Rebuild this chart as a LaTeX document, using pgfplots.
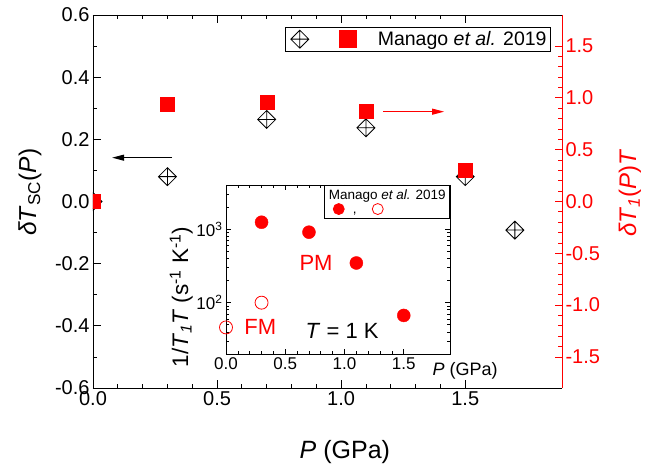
\documentclass[border=0pt]{standalone}
\usepackage{fontspec}
\setmainfont{Liberation Sans}
\usepackage{pgfplots}
\pgfplotsset{compat=1.18}
\usetikzlibrary{arrows.meta}

\pgfdeclareplotmark{dplus}{%
  \pgfpathmoveto{\pgfqpoint{0pt}{\pgfplotmarksize}}%
  \pgfpathlineto{\pgfqpoint{\pgfplotmarksize}{0pt}}%
  \pgfpathlineto{\pgfqpoint{0pt}{-\pgfplotmarksize}}%
  \pgfpathlineto{\pgfqpoint{-\pgfplotmarksize}{0pt}}%
  \pgfpathclose
  \pgfpathmoveto{\pgfqpoint{0pt}{\pgfplotmarksize}}%
  \pgfpathlineto{\pgfqpoint{0pt}{-\pgfplotmarksize}}%
  \pgfpathmoveto{\pgfqpoint{-\pgfplotmarksize}{0pt}}%
  \pgfpathlineto{\pgfqpoint{\pgfplotmarksize}{0pt}}%
  \pgfusepathqstroke
}

\pgfplotstableread{
P    dTsc
0.0  0.000
0.3  0.080
0.7  0.264
1.1  0.237
1.5  0.080
1.7  -0.092
}\tsc

\pgfplotstableread{
P    dT1T
0.0  0.000
0.3  0.938
0.7  0.954
1.1  0.867
1.5  0.300
}\tone

\pgfplotstableread{
P    rate
0.3  1245
0.7  911
1.1  347
1.5  67
}\pm

\pgfplotstableread{
P    rate
0.0  46
0.3  100
}\fm

\begin{document}
\begin{tikzpicture}
\pgfplotsset{
  every axis/.append style={
    /pgf/number format/assume math mode=true,
    scale only axis,
    tick align=inside,
  },
}
% ---------- main left axis ----------
\begin{axis}[
  at={(0pt,0pt)}, anchor=south west,
  width=469pt, height=373pt,
  xmin=0, xmax=1.89, ymin=-0.6, ymax=0.6,
  axis y line*=left,
  clip marker paths=true,
  xtick={0,0.5,1,1.5}, minor x tick num=4,
  ytick={-0.6,-0.4,-0.2,0,0.2,0.4,0.6}, minor y tick num=1,
  major tick length=8pt, minor tick length=4.5pt,
  every tick/.style={black, line width=0.8pt},
  axis line style={line width=0.9pt},
  ticklabel style={font=\fontsize{20}{24}\selectfont},
  xticklabel style={/pgf/number format/fixed, /pgf/number format/fixed zerofill, /pgf/number format/precision=1},
  yticklabel style={/pgf/number format/fixed, /pgf/number format/fixed zerofill, /pgf/number format/precision=1},
  xlabel={\textit{P} (GPa)},
  xlabel style={font=\fontsize{25}{30}\selectfont, at={(axis description cs:0.537,0)}, anchor=base, yshift=-70pt},
  ylabel={\textit{δT}\textsubscript{SC}(\textit{P})},
  ylabel style={font=\fontsize{24.5}{29}\selectfont, at={(axis description cs:-0.134,0.525)}, anchor=center},
  legend style={at={(0.9765,0.968)}, anchor=north east, draw=black, line width=0.8pt,
    font=\fontsize{19.5}{23}\selectfont, inner sep=2pt},
]
\addlegendimage{legend image code/.code={
  \draw[black, line width=0.8pt] (0pt,9pt) -- (9pt,0pt) -- (0pt,-9pt) -- (-9pt,0pt) -- cycle
     (0pt,9pt) -- (0pt,-9pt) (-9pt,0pt) -- (9pt,0pt);
  \fill[red] (40pt,-8.5pt) rectangle (57pt,8.5pt);
  \path[draw=none, fill=none] (-12pt,0pt) -- (76pt,0pt);
}}
\addlegendentry{Manago \textit{et al.} 2019}
\addplot[only marks, mark=dplus, mark size=9pt, black, line width=0.8pt] table[x=P, y=dTsc] {\tsc};
\draw[black, line width=1pt, -{Triangle[length=12pt,width=6pt]}] (axis cs:0.319,0.141) -- (axis cs:0.077,0.141);
\draw[red, line width=1pt, -{Triangle[length=12pt,width=6pt]}] (axis cs:1.169,0.289) -- (axis cs:1.415,0.289);
\end{axis}

% ---------- main right axis ----------
\begin{axis}[
  at={(0pt,0pt)}, anchor=south west,
  width=469pt, height=373pt,
  xmin=0, xmax=1.89, ymin=-1.8, ymax=1.8,
  axis x line=none, axis y line*=right,
  clip marker paths=true,
  ytick={-1.5,-1,-0.5,0,0.5,1,1.5}, minor y tick num=4,
  major tick length=7pt, minor tick length=4pt,
  every tick/.style={red, line width=0.8pt},
  axis line style={red, line width=0.9pt},
  yticklabel style={red, font=\fontsize{20}{24}\selectfont, /pgf/number format/fixed, /pgf/number format/fixed zerofill, /pgf/number format/precision=1},
  ylabel={\textit{δT}\textsubscript{\textit{1}}(\textit{P})\textit{T}},
  ylabel style={red, font=\fontsize{24}{29}\selectfont, at={(axis description cs:1.145,0.523)}, anchor=center},
]
\addplot[only marks, mark=square*, mark size=7pt, red] table[x=P, y=dT1T] {\tone};
\end{axis}

% ---------- inset ----------
\begin{axis}[
  at={(133pt,34pt)}, anchor=south west,
  width=224pt, height=169pt,
  xmin=0, xmax=1.89, ymode=log, ymin=20, ymax=4000,
  axis background/.style={fill=white},
  xtick={0,0.5,1,1.5}, minor x tick num=4,
  ytick={100,1000}, yticklabels={10\textsuperscript{2},10\textsuperscript{3}},
  minor ytick={20,30,40,50,60,70,80,90,200,300,400,500,600,700,800,900,2000,3000,4000},
  major tick length=5pt, minor tick length=3pt,
  every tick/.style={black, line width=0.7pt},
  axis line style={line width=0.9pt},
  ticklabel style={font=\fontsize{17}{20}\selectfont},
  xticklabel style={/pgf/number format/fixed, /pgf/number format/fixed zerofill, /pgf/number format/precision=1},
  xlabel={\textit{P} (GPa)},
  xlabel style={font=\fontsize{18}{22}\selectfont, at={(axis description cs:1.067,0)}, anchor=base, yshift=-21pt},
  ylabel={1/\textit{T}\textsubscript{\textit{1}}\textit{T} (s\textsuperscript{-1} K\textsuperscript{-1})},
  ylabel style={font=\fontsize{22.5}{26}\selectfont, at={(axis description cs:-0.2,0.337)}, anchor=center},
  legend style={at={(1,1)}, anchor=north east, draw=black, line width=0.8pt,
    font=\fontsize{13.5}{16}\selectfont, inner sep=2pt},
  legend cell align=left,
]
\addlegendimage{legend image code/.code={
  \fill[red, overlay] (12pt,-14pt) circle (5.5pt);
  \node[overlay, anchor=base, inner sep=0pt] at (28pt,-18pt) {,};
  \draw[red, overlay, fill=white, line width=0.8pt] (51pt,-14pt) circle (5.5pt);
  \path[draw=none, fill=none] (0pt,0pt) -- (0pt,-21pt);
}}
\addlegendentry{Manago \textit{et al.} 2019}
\addplot[only marks, mark=*, mark size=6.5pt, red] table[x=P, y=rate] {\pm};
\addplot[only marks, mark=o, mark size=6.5pt, red, fill=white, line width=0.8pt] table[x=P, y=rate] {\fm};
\node[red, font=\fontsize{22}{26}\selectfont] at (axis cs:0.76,347) {PM};
\node[red, font=\fontsize{22}{26}\selectfont] at (axis cs:0.29,46) {FM};
\node[black, font=\fontsize{22}{26}\selectfont] at (axis cs:0.98,40.6) {\textit{T} = 1 K};
\end{axis}

\path (-93pt,-78pt) rectangle (569pt,388pt);
\end{tikzpicture}
\end{document}
